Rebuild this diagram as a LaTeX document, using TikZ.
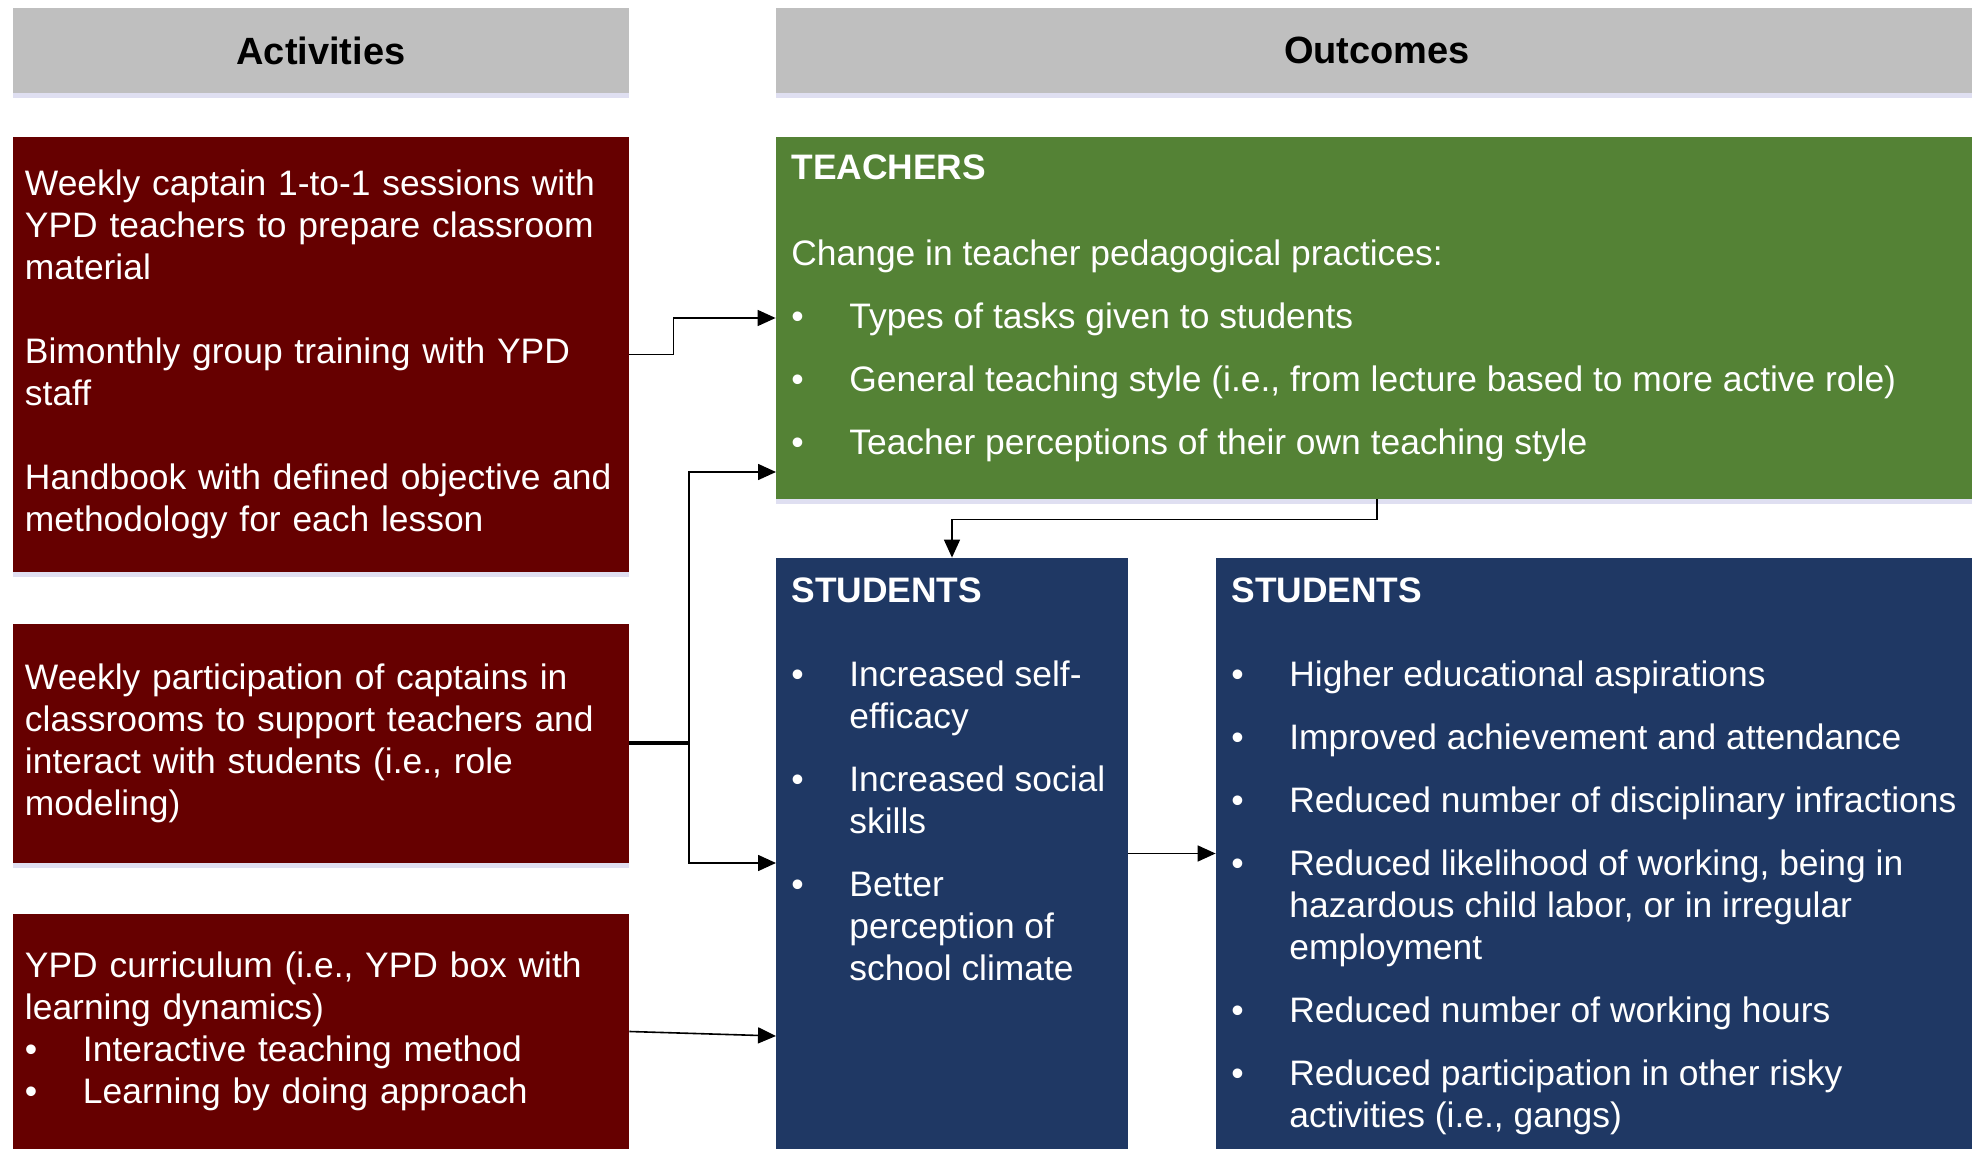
\documentclass[tikz,border=0pt]{standalone}
\usepackage{fontspec}
\setmainfont{Liberation Sans}
\usepackage{xcolor}
\usetikzlibrary{shapes,arrows.meta,positioning,shadows}

\definecolor{actred}{HTML}{660000}
\definecolor{teachgreen}{HTML}{548235}
\definecolor{studblue}{HTML}{1F3864}
\definecolor{headgray}{HTML}{BFBFBF}

\newcommand{\bitem}{\makebox[29pt][l]{\textbullet}}
\newcommand{\bcont}{\hspace*{29pt}}

\begin{document}
\begin{tikzpicture}[x=1pt, y=-1pt, font=\fontsize{17.7}{21}\selectfont, text=white,
    softshadow/.style={drop shadow={shadow xshift=0pt, shadow yshift=-2.5pt, opacity=0.18, fill=blue!40!gray}},
    header/.style={fill=headgray, text=black, font=\fontsize{19}{22}\selectfont\bfseries,
        minimum height=42.5pt, inner sep=0pt, softshadow},
    activity/.style={fill=actred, text width=296pt, inner xsep=6pt, inner ysep=0pt,
        align=left, softshadow},
    outcome/.style={inner sep=0pt, softshadow},
    boxtext/.style={inner sep=0pt, anchor=north west, align=left},
    arr/.style={-{Triangle[length=9pt,width=8pt]}, line width=0.8pt}]
    \useasboundingbox (0,0) rectangle (986,574.5);

    % Headers
    \node[header, minimum width=308pt] (acthead) at (160.5,25.25) {Activities};
    \node[header, minimum width=601pt] (outhead) at (688.5,25.25) {Outcomes};

    % Activities
    \node[activity, minimum height=217.5pt] (act1) at (160.5,177.25)
        {Weekly captain 1-to-1 sessions with\\YPD teachers to prepare classroom\\material\\[21pt]
         Bimonthly group training with YPD\\staff\\[21pt]
         Handbook with defined objective and\\methodology for each lesson};
    \node[activity, minimum height=119.5pt] (act2) at (160.5,371.75)
        {Weekly participation of captains in\\classrooms to support teachers and\\interact with students (i.e., role\\modeling)};
    \node[activity, minimum height=117.5pt] (act3) at (160.5,515.75)
        {YPD curriculum (i.e., YPD box with\\learning dynamics)\\\bitem Interactive teaching method\\\bitem Learning by doing approach};

    % Outcomes
    \node[outcome, fill=teachgreen, minimum width=601pt, minimum height=181pt] (teach) at (688.5,159) {};
    \node[outcome, fill=studblue, minimum width=176pt, minimum height=295.5pt] (stud1) at (476,426.75) {};
    \node[outcome, fill=studblue, minimum width=381pt, minimum height=295.5pt] (stud2) at (798.5,426.75) {};

    \node[boxtext] (teachtxt) at (395.5,77)
        {\textbf{TEACHERS}\\[22.1pt]
         Change in teacher pedagogical practices:\\[10.5pt]
         \bitem Types of tasks given to students\\[10.5pt]
         \bitem General teaching style (i.e., from lecture based to more active role)\\[10.5pt]
         \bitem Teacher perceptions of their own teaching style};
    \node[boxtext] (stud1txt) at (395.5,288.6)
        {\textbf{STUDENTS}\\[21.1pt]
         \bitem Increased self-\\\bcont efficacy\\[10.5pt]
         \bitem Increased social\\\bcont skills\\[10.5pt]
         \bitem Better\\\bcont perception of\\\bcont school climate};
    \node[boxtext] (stud2txt) at (615.5,288.6)
        {\textbf{STUDENTS}\\[21.1pt]
         \bitem Higher educational aspirations\\[10.5pt]
         \bitem Improved achievement and attendance\\[10.5pt]
         \bitem Reduced number of disciplinary infractions\\[10.5pt]
         \bitem Reduced likelihood of working, being in\\\bcont hazardous child labor, or in irregular\\\bcont employment\\[10.5pt]
         \bitem Reduced number of working hours\\[10.5pt]
         \bitem Reduced participation in other risky\\\bcont activities (i.e., gangs)};

    % Connectors
    \coordinate (split) at (344.5,371.75);
    \coordinate (toteach) at (388,236);
    \coordinate (tostud) at (388,431.5);
    \coordinate (fromcurr) at (388,518);

    \draw[arr] (act1.east) -- ++(22,0) |- (teach.west);
    \draw[line width=2pt] (act2.east) -- (split);
    \draw[arr] (split) |- (toteach);
    \draw[arr] (split) |- (tostud);
    \draw[arr] (act3.east) -- (fromcurr);
    \draw[arr] (teach.south) -- ++(0,10) -| (stud1.north);
    \draw[arr] (stud1.east) -- (stud2.west);
\end{tikzpicture}
\end{document}
